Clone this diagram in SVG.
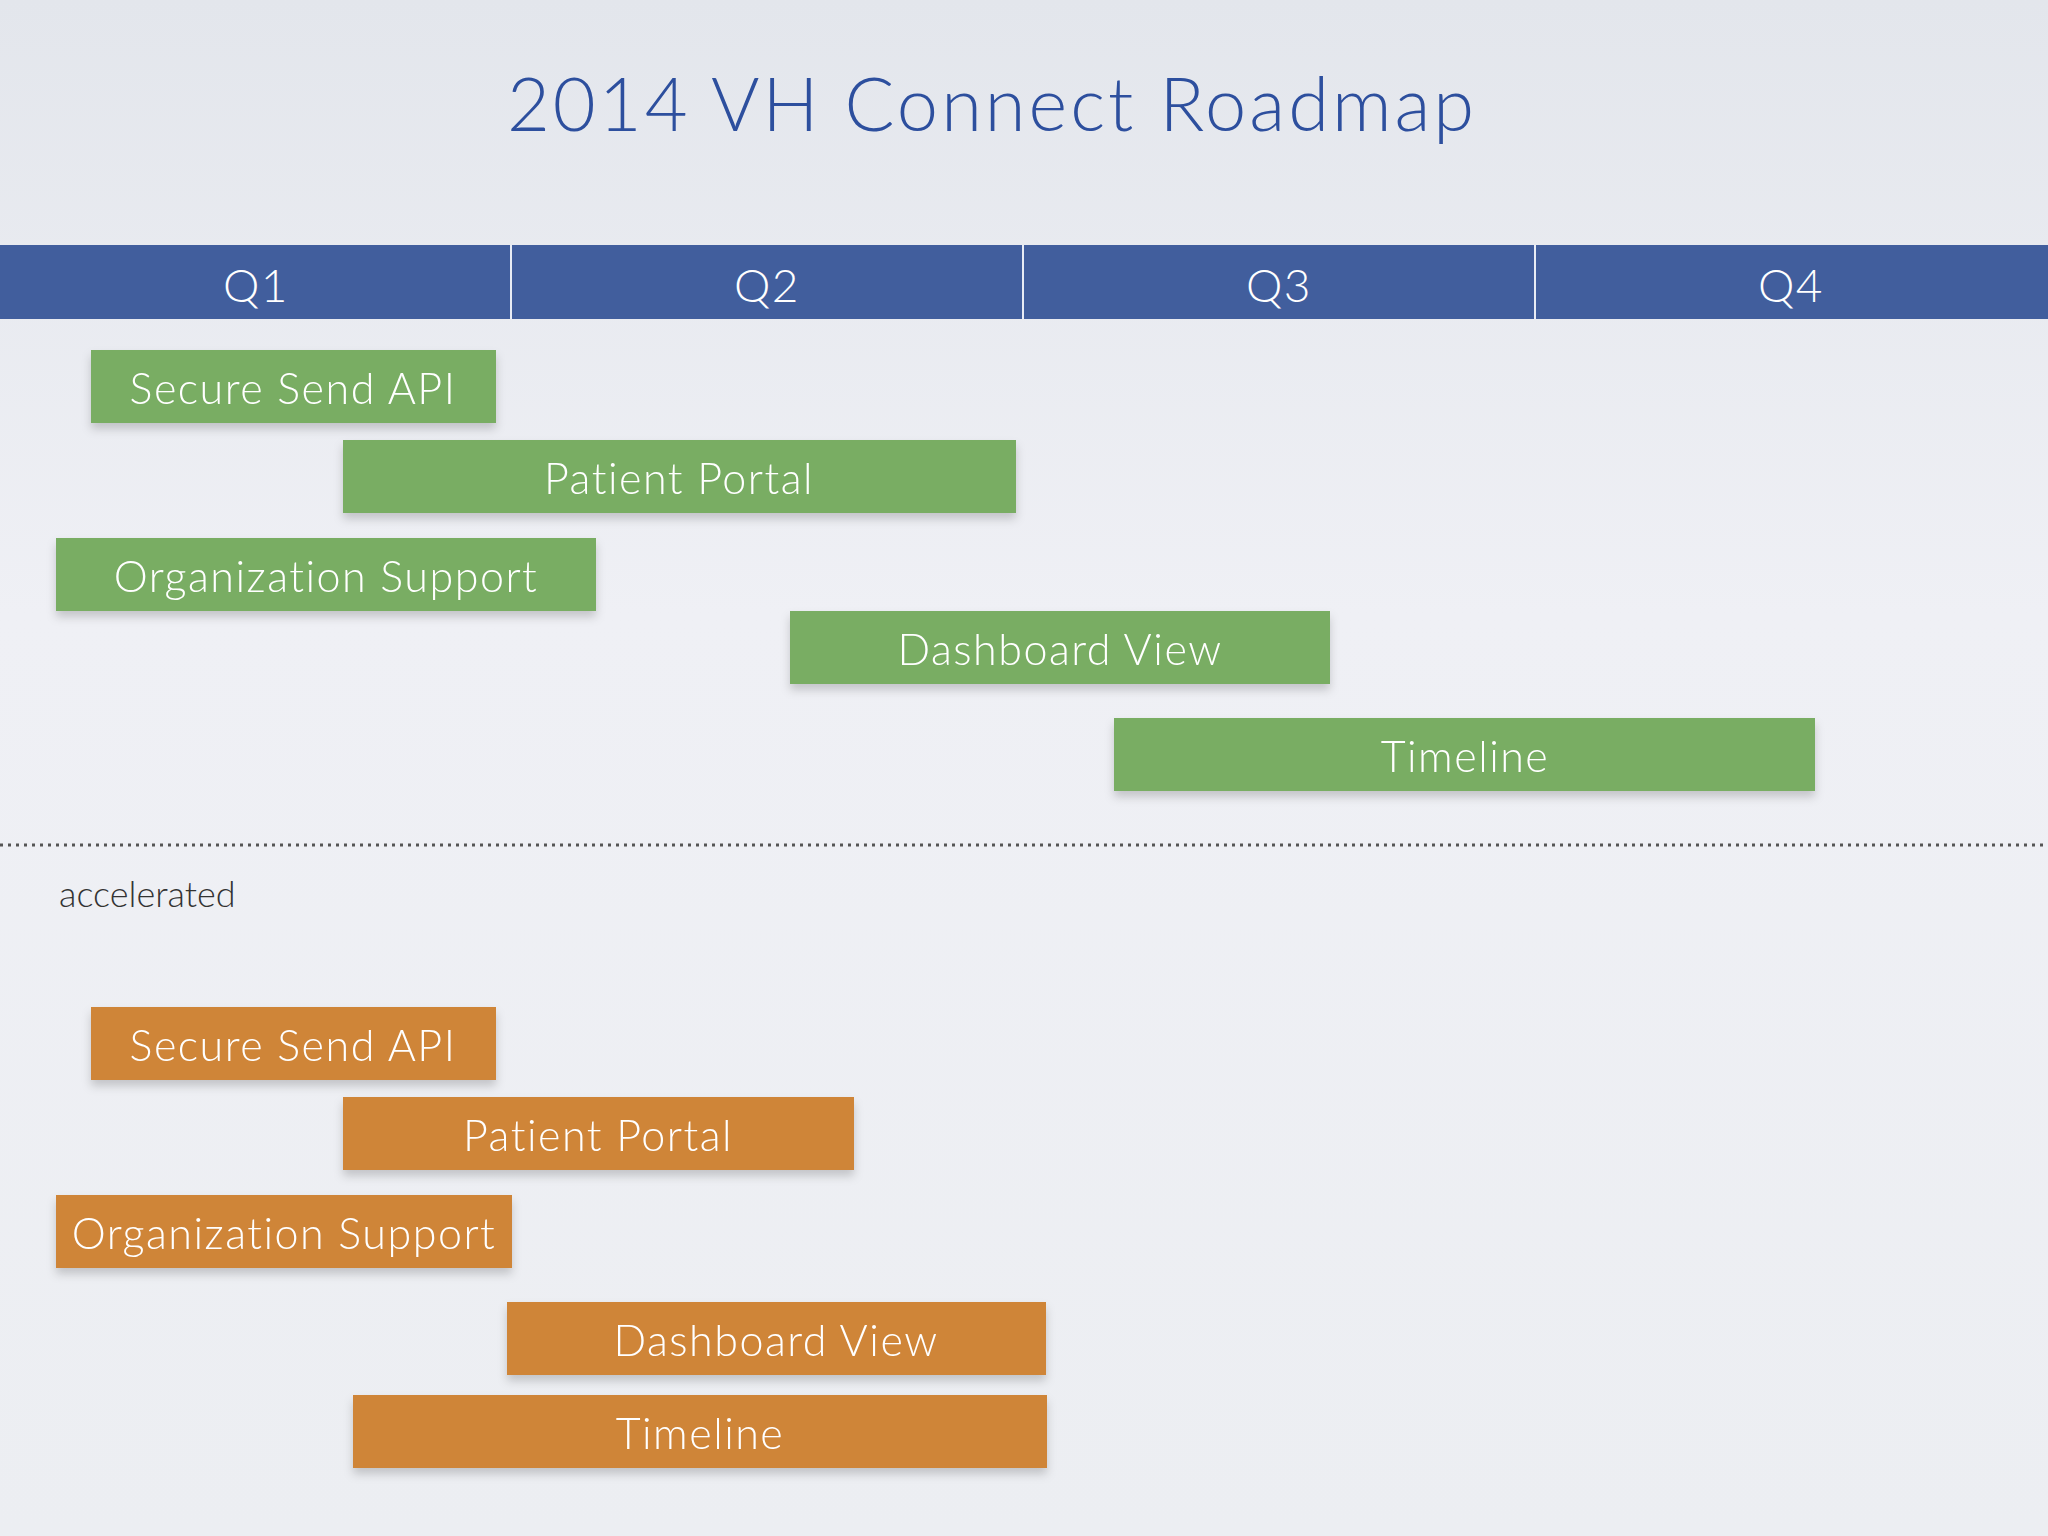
<svg xmlns="http://www.w3.org/2000/svg" width="2048" height="1536" viewBox="0 0 2048 1536">
<defs>
<linearGradient id="bg" x1="0" y1="0" x2="0" y2="1">
<stop offset="0" stop-color="#e3e6ec"/><stop offset="0.4" stop-color="#eff0f5"/><stop offset="1" stop-color="#eceef2"/>
</linearGradient>
<filter id="sh" x="-5%" y="-20%" width="110%" height="160%"><feDropShadow dx="0" dy="6" stdDeviation="5" flood-color="#000" flood-opacity="0.18"/></filter>
</defs>
<style>
.t{font-family:Lato,"Open Sans",sans-serif;font-weight:300;fill:#fff;text-anchor:middle;dominant-baseline:central;font-size:43px;letter-spacing:1.5px}
.g{fill:#79ad63}
.o{fill:#cf8539}
.q{font-size:46px}
</style>
<rect width="2048" height="1536" fill="url(#bg)"/>
<text x="992" y="102" font-family="Lato,'Open Sans',sans-serif" font-weight="300" font-size="74" letter-spacing="3" fill="#2d4f9e" text-anchor="middle" dominant-baseline="central">2014 VH Connect Roadmap</text>
<g id="header">
<rect x="0" y="245" width="2048" height="74" fill="#415e9d"/>
<g stroke="#e8ecf5" stroke-width="2"><line x1="511" y1="245" x2="511" y2="319"/><line x1="1023" y1="245" x2="1023" y2="319"/><line x1="1535" y1="245" x2="1535" y2="319"/></g>
<text class="t q" x="256" y="284">Q1</text><text class="t q" x="767" y="284">Q2</text><text class="t q" x="1279" y="284">Q3</text><text class="t q" x="1791" y="284">Q4</text>
</g>
<g id="g1" filter="url(#sh)"><rect class="g" x="91" y="350" width="405" height="73"/><text class="t" x="293" y="387">Secure Send API</text></g>
<g id="g2" filter="url(#sh)"><rect class="g" x="343" y="440" width="673" height="73"/><text class="t" x="679" y="477">Patient Portal</text></g>
<g id="g3" filter="url(#sh)"><rect class="g" x="56" y="538" width="540" height="73"/><text class="t" x="326" y="575">Organization Support</text></g>
<g id="g4" filter="url(#sh)"><rect class="g" x="790" y="611" width="540" height="73"/><text class="t" x="1060" y="648">Dashboard View</text></g>
<g id="g5" filter="url(#sh)"><rect class="g" x="1114" y="718" width="701" height="73"/><text class="t" x="1465" y="755">Timeline</text></g>
<g id="connectors"><line x1="0" y1="845" x2="2048" y2="845" stroke="#555" stroke-width="3" stroke-dasharray="3 5"/></g>
<text x="59" y="893" font-family="Lato,'Open Sans',sans-serif" font-weight="300" font-size="36" fill="#333" dominant-baseline="central">accelerated</text>
<g id="o1" filter="url(#sh)"><rect class="o" x="91" y="1007" width="405" height="73"/><text class="t" x="293" y="1044">Secure Send API</text></g>
<g id="o2" filter="url(#sh)"><rect class="o" x="343" y="1097" width="511" height="73"/><text class="t" x="598" y="1134">Patient Portal</text></g>
<g id="o3" filter="url(#sh)"><rect class="o" x="56" y="1195" width="456" height="73"/><text class="t" x="284" y="1232">Organization Support</text></g>
<g id="o4" filter="url(#sh)"><rect class="o" x="507" y="1302" width="539" height="73"/><text class="t" x="776" y="1339">Dashboard View</text></g>
<g id="o5" filter="url(#sh)"><rect class="o" x="353" y="1395" width="694" height="73"/><text class="t" x="700" y="1432">Timeline</text></g>
</svg>
